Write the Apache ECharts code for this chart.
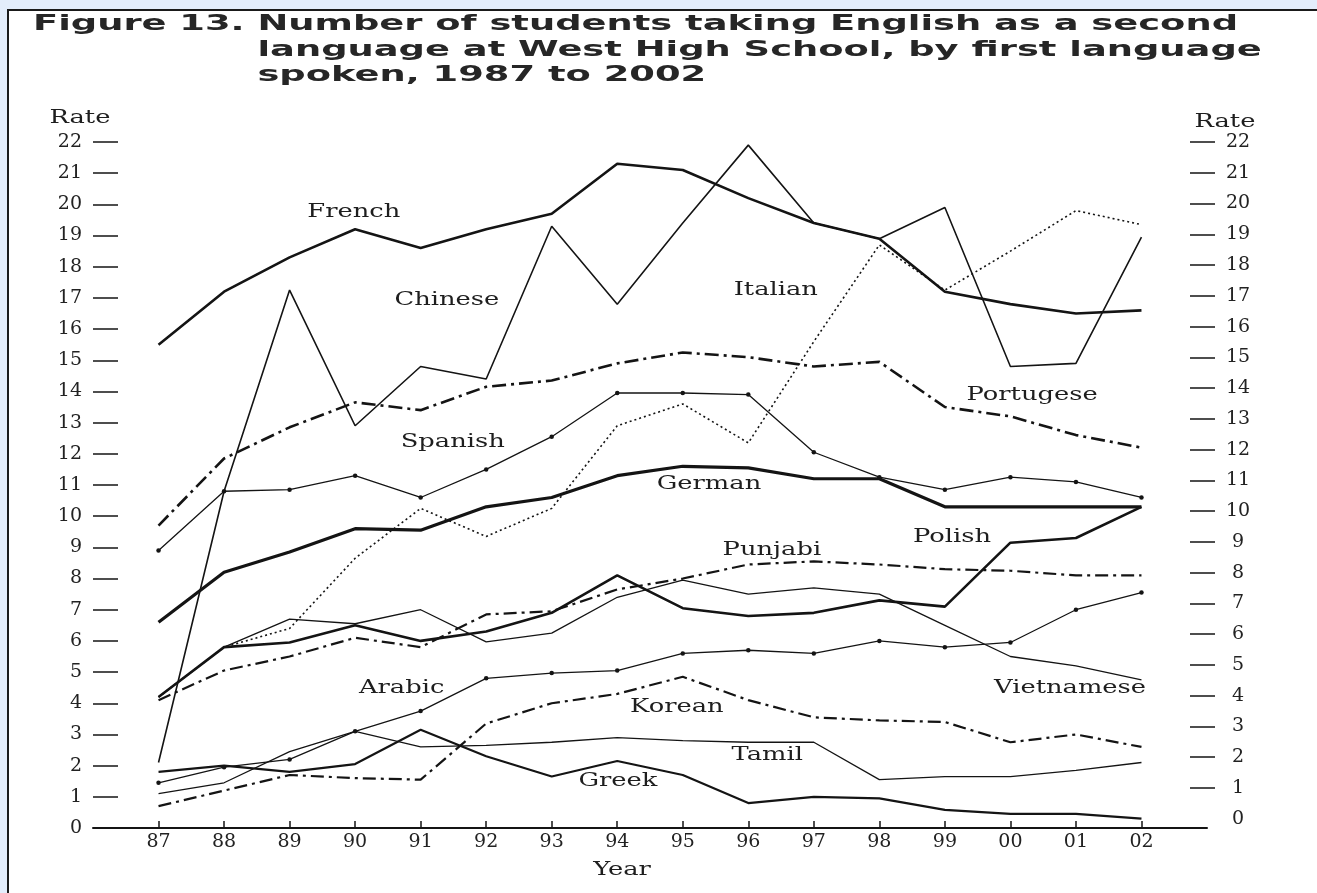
<!DOCTYPE html>
<html><head><meta charset="utf-8">
<script src="https://cdn.jsdelivr.net/npm/echarts@6/dist/echarts.min.js"></script>
<style>
html,body{margin:0;padding:0;background:#e3edfb;width:1317px;height:893px;overflow:hidden}
#panel{position:absolute;left:7px;top:9px;width:1400px;height:1000px;background:#fff;border-left:2px solid #1a1a1a;border-top:2px solid #1a1a1a}
#chart{position:absolute;left:0;top:0;width:1317px;height:893px}
</style></head><body>
<div id="panel"></div><div id="chart"></div>
<script>
// ---------- data ----------
const years = ['87','88','89','90','91','92','93','94','95','96','97','98','99','00','01','02'];
const yTickValues = [0,1,2,3,4,5,6,7,8,9,10,11,12,13,14,15,16,17,18,19,20,21,22];
const french     = [15.5,17.2,18.3,19.2,18.6,19.2,19.7,21.3,21.1,20.2,19.4,18.9,17.2,16.8,16.5,16.6];
const chinese    = [2.1,10.8,17.25,12.9,14.8,14.4,19.3,16.8,19.4,21.9,19.4,18.9,19.9,14.8,14.9,18.95];
const italian    = [4.2,5.8,6.4,8.65,10.25,9.35,10.25,12.9,13.6,12.35,15.6,18.7,17.25,18.5,19.8,19.35];
const portugese  = [9.7,11.85,12.85,13.65,13.4,14.15,14.35,14.9,15.25,15.1,14.8,14.95,13.5,13.2,12.6,12.2];
const spanish    = [8.9,10.8,10.85,11.3,10.6,11.5,12.55,13.95,13.95,13.9,12.05,11.25,10.85,11.25,11.1,10.6];
const german     = [6.6,8.2,8.85,9.6,9.55,10.3,10.6,11.3,11.6,11.55,11.2,11.2,10.3,10.3,10.3,10.3];
const punjabi    = [4.1,5.05,5.5,6.1,5.8,6.85,6.95,7.65,8.0,8.45,8.55,8.45,8.3,8.25,8.1,8.1];
const polish     = [4.2,5.8,5.95,6.5,6.0,6.3,6.9,8.1,7.05,6.8,6.9,7.3,7.1,9.15,9.3,10.3];
const vietnamese = [4.2,5.8,6.7,6.55,7.0,5.97,6.25,7.4,7.95,7.5,7.7,7.5,6.5,5.5,5.2,4.75];
const arabic     = [1.45,1.95,2.2,3.1,3.75,4.8,4.97,5.05,5.6,5.7,5.6,6.0,5.8,5.95,7.0,7.55];
const korean     = [0.7,1.2,1.7,1.6,1.55,3.35,4.0,4.3,4.85,4.1,3.55,3.45,3.4,2.75,3.0,2.6];
const tamil      = [1.1,1.45,2.45,3.1,2.6,2.65,2.75,2.9,2.8,2.75,2.75,1.55,1.65,1.65,1.85,2.1];
const greek      = [1.8,2.0,1.8,2.05,3.15,2.3,1.65,2.15,1.7,0.8,1.0,0.95,0.58,0.45,0.45,0.3];

const seriesNames = ['French','Chinese','Italian','Portugese','Spanish','German','Punjabi','Polish','Vietnamese','Arabic','Korean','Tamil','Greek'];
const seriesValues = [french,chinese,italian,portugese,spanish,german,punjabi,polish,vietnamese,arabic,korean,tamil,greek];

// ---------- styles ----------
const INK = '#141414';
const styles = {
  French:     {width:2.6, type:'solid'},
  Chinese:    {width:1.6, type:'solid'},
  Italian:    {width:1.6, type:[2,3]},
  Portugese:  {width:2.6, type:[14,5,3,5]},
  Spanish:    {width:1.3, type:'solid', marker:true},
  German:     {width:3.2, type:'solid'},
  Punjabi:    {width:2.2, type:[13,5,3,5]},
  Polish:     {width:2.6, type:'solid'},
  Vietnamese: {width:1.3, type:'solid'},
  Arabic:     {width:1.3, type:'solid', marker:true},
  Korean:     {width:2.2, type:[13,5,3,5]},
  Tamil:      {width:1.3, type:'solid'},
  Greek:      {width:2.2, type:'solid'}
};
// label anchors in data space (x = year index, y = rate)
const labelAnchors = {
  French:[2.98,19.74], Chinese:[4.40,16.93], Italian:[9.42,17.25], Portugese:[13.33,13.89],
  Spanish:[4.49,12.38], German:[8.40,11.03], Punjabi:[9.36,8.92], Polish:[12.11,9.33],
  Vietnamese:[13.91,4.49], Arabic:[3.71,4.49], Korean:[7.91,3.88], Tamil:[9.29,2.34], Greek:[7.01,1.51]
};

const SERIF = '"DejaVu Serif", "Liberation Serif", serif';
const SANS = '"DejaVu Sans", Verdana, sans-serif';

function measure(text, font){
  const c = document.createElement('canvas').getContext('2d');
  c.font = font; return c.measureText(text).width;
}

const chart = echarts.init(document.getElementById('chart'), null, {renderer:'canvas'});
const xIdx = years.map((_, i) => i);

const series = seriesNames.map((name, k) => {
  const st = styles[name];
  return {
    name, type:'line', xAxisIndex:0, yAxisIndex:0,
    data: seriesValues[k].map((v, i) => [i, v]),
    symbol: st.marker ? 'circle' : 'none',
    symbolSize: 4.5, showSymbol: !!st.marker,
    itemStyle:{color:INK}, silent:true,
    lineStyle:{color:INK, width:st.width, type:st.type},
    z: 3
  };
});

chart.setOption({
  animation:false,
  backgroundColor:'transparent',
  grid:{left:93, right:110, top:142, bottom:65, containLabel:false},
  xAxis:{
    type:'value', min:-1, max:16, interval:1,
    axisLine:{show:true, onZero:false, lineStyle:{color:INK, width:2}},
    axisTick:{show:true, inside:true, length:7, customValues:xIdx, lineStyle:{color:INK, width:1.5}},
    axisLabel:{customValues:xIdx, formatter:v => (years[v] !== undefined ? years[v] : ''),
      fontFamily:SERIF, fontSize:19, color:'#222', margin:5},
    splitLine:{show:false}
  },
  yAxis:[{
    type:'value', position:'left', min:0, max:22, interval:1,
    axisLine:{show:false, onZero:false},
    axisTick:{show:true, inside:true, length:25, lineStyle:{color:INK, width:1.5}},
    axisLabel:{fontFamily:SERIF, fontSize:19, color:'#222', margin:11},
    splitLine:{show:false}
  },{
    type:'value', position:'right', offset:8, min:-0.3, max:22,
    axisLine:{show:false, onZero:false},
    axisTick:{show:true, inside:true, length:25, customValues:yTickValues.slice(1), lineStyle:{color:INK, width:1.5}},
    axisLabel:{customValues:yTickValues, fontFamily:SERIF, fontSize:19, color:'#222', margin:23, align:'center'},
    splitLine:{show:false}
  }],
  series
});

// ---------- text (title, names, series labels) ----------
const titleFont = 'bold 22px ' + SANS;
const line1 = 'Figure 13. Number of students taking English as a second';
const tScale = 1205 / measure(line1, titleFont);
const indent = measure('Figure 13. ', titleFont) * tScale;
const serifFont = '18px ' + SERIF;
const sScale = 93 / measure('French', serifFont);

function txt(text, x, y, font, scale, align, fill){
  return {type:'text', x, y, scaleX:scale, z:10, silent:true,
    style:{text, font, fill:fill||'#1e1e1e', align:align||'center', textAlign:align||'center',
      verticalAlign:'middle', textVerticalAlign:'middle'}};
}
const gfx = [
  txt(line1, 33, 24, titleFont, tScale, 'left', '#262626'),
  txt('language at West High School, by first language', 33 + indent, 50, titleFont, tScale, 'left', '#262626'),
  txt('spoken, 1987 to 2002', 33 + indent, 75, titleFont, tScale, 'left', '#262626'),
  txt('Rate', 80, 118, serifFont, sScale),
  txt('Rate', 1225, 122, serifFont, sScale),
  txt('Year', 622, 870, serifFont, sScale)
];
seriesNames.forEach(name => {
  const p = chart.convertToPixel({xAxisIndex:0, yAxisIndex:0}, labelAnchors[name]);
  gfx.push(txt(name, p[0], p[1], serifFont, sScale));
});
chart.setOption({graphic:{elements:gfx}});
</script>
</body></html>
